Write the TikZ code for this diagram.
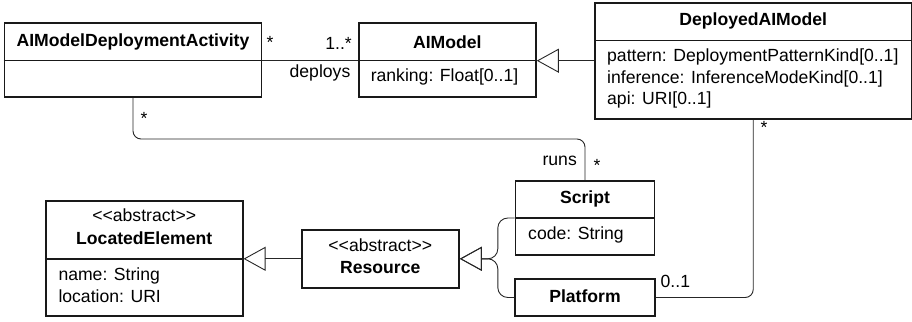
\documentclass[tikz,border=0pt]{standalone}
\usepackage{fontspec}
\setmainfont{Liberation Sans}[Ligatures=TeXOff]
\usetikzlibrary{arrows.meta}
\begin{document}
\begin{tikzpicture}[x=1pt,y=-1pt,
  every node/.style={font=\fontsize{17.6}{21.5}\selectfont, inner sep=0pt},
  umlbox/.style={draw=black!90, line width=1.7pt, rectangle, inner sep=0pt},
  divider/.style={draw=black!90, line width=1.5pt},
  conn/.style={draw=black!85, line width=0.9pt},
  gen/.style={-{Triangle[open, length=22pt, width=24pt, line width=0.9pt]}},
  title/.style={font=\fontsize{17.6}{21.5}\selectfont\bfseries},
  attr/.style={anchor=west},
  lbl/.style={}
]
\useasboundingbox (0,0) rectangle (912,321);
% boxes
\node[umlbox, minimum width=257pt, minimum height=73.4pt] (ada) at (133,60) {};
\node[umlbox, minimum width=177.3pt, minimum height=73.4pt] (aim) at (447.3,60) {};
\node[umlbox, minimum width=316.5pt, minimum height=116pt] (dai) at (753.2,61.3) {};
\node[umlbox, minimum width=139pt, minimum height=74pt] (scr) at (585,218) {};
\node[umlbox, minimum width=139.5pt, minimum height=37pt] (plat) at (585,297.5) {};
\node[umlbox, minimum width=157.3pt, minimum height=57.7pt] (res) at (380.3,258.8) {};
\node[umlbox, minimum width=197pt, minimum height=115.3pt] (loc) at (144.2,258.3) {};
% dividers
\draw[divider] (ada.west |- 0,60.7) -- (ada.east |- 0,60.7);
\draw[divider] (aim.west |- 0,60.7) -- (aim.east |- 0,60.7);
\draw[divider] (dai.west |- 0,40.7) -- (dai.east |- 0,40.7);
\draw[divider] (scr.west) -- (scr.east);
\draw[divider] (loc.west |- 0,259) -- (loc.east |- 0,259);
% texts
\node[title] (tada) at (133,42) {AIModelDeploymentActivity};
\node[title] (taim) at (447.3,42) {AIModel};
\node[attr] (aaim) at (370.6,77) {ranking: Float[0..1]};
\node[title] (tdai) at (753.2,21) {DeployedAIModel};
\node[attr] (adai1) at (607,57) {pattern: DeploymentPatternKind[0..1]};
\node[attr] (adai2) at (607,79) {inference: InferenceModeKind[0..1]};
\node[attr] (adai3) at (607,100) {api: URI[0..1]};
\node[title] (tscr) at (585,199) {Script};
\node[attr] (ascr) at (528,235) {code: String};
\node[title] (tplat) at (585,296) {Platform};
\node (sres) at (380.3,245.7) {<\kern0pt<abstract>\kern0pt>};
\node[title] (tres) at (380.3,267.3) {Resource};
\node (sloc) at (144.2,215.7) {<\kern0pt<abstract>\kern0pt>};
\node[title] (tloc) at (144.2,238.7) {LocatedElement};
\node[attr] (aloc1) at (58.3,276) {name: String};
\node[attr] (aloc2) at (58.3,296) {location: URI};
% connectors
\draw[conn] (ada.east |- 0,60.7) -- (aim.west |- 0,60.7);
\node[lbl] (m1) at (270,42) {*};
\node[lbl, anchor=east] (m2) at (352,43) {1..*};
\node[lbl] (m3) at (320,73) {deploys};
\draw[conn, gen] (dai.west |- 0,60.7) -- (aim.east |- 0,60.7);
\coordinate (runsy) at (0,139);
\draw[conn, rounded corners=8pt] (ada.south) -- (ada.south |- runsy) -| (scr.north);
\node[lbl] (m4) at (144,118) {*};
\node[lbl, anchor=east] (m5) at (577,161) {runs};
\node[lbl] (m6) at (597,165) {*};
\draw[conn, rounded corners=8pt] (dai.south) |- (plat.east);
\node[lbl] (m7) at (764,127) {*};
\node[lbl, anchor=west] (m8) at (660.5,281) {0..1};
\coordinate (fork) at ([xshift=38pt]res.east);
\draw[conn, gen, rounded corners=10pt] (scr.west) -| (fork) -- (res.east);
\draw[conn, gen, rounded corners=10pt] (plat.west) -| (fork) -- (res.east);
\draw[conn, gen] (res.west) -- (loc.east |- res.west);
\end{tikzpicture}
\end{document}
